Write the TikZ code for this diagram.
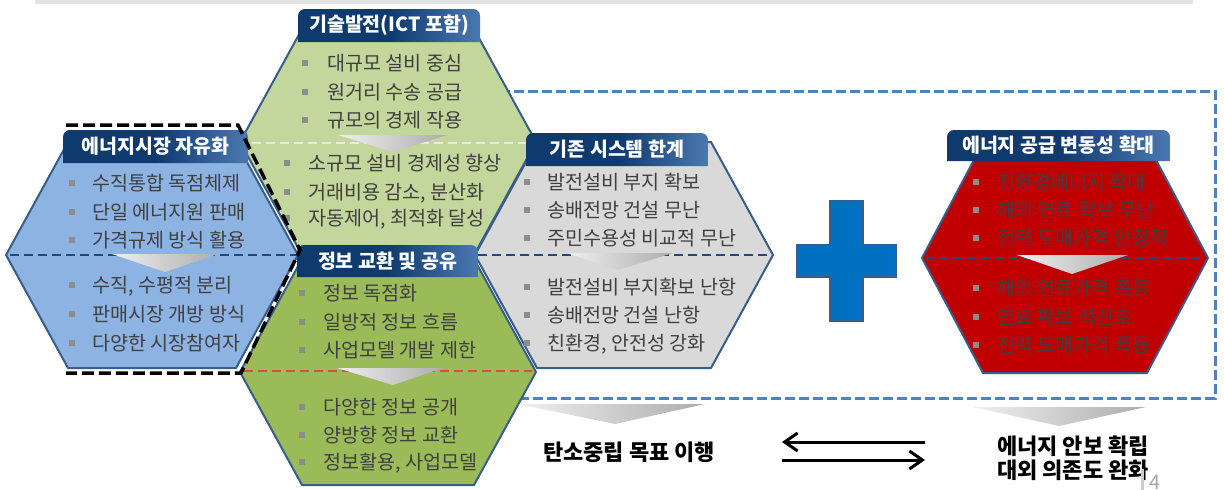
\documentclass[tikz,border=0pt]{standalone}
\usepackage{fontspec}
\setmainfont{Noto Sans CJK KR}
\usetikzlibrary{arrows.meta}
\definecolor{hexborder}{HTML}{385D8A}
\definecolor{lgreen}{HTML}{C3D69B}
\definecolor{dgreen}{HTML}{9BBB59}
\definecolor{lblue}{HTML}{8DB3E2}
\definecolor{lgray}{HTML}{D9D9D9}
\definecolor{dred}{HTML}{C00000}
\definecolor{navy}{HTML}{1F497D}
\definecolor{hdrA}{HTML}{0F3A6E}
\definecolor{hdrB}{HTML}{4A78B0}
\definecolor{txtgray}{HTML}{404040}
\definecolor{bulgray}{HTML}{8C8C8C}
\definecolor{dashblue}{HTML}{4F81BD}
\definecolor{reddash}{HTML}{D05050}
\definecolor{plusblue}{HTML}{0070C0}
\tikzset{
  hexshape/.style={draw=hexborder, line width=2pt, line join=miter},
  item/.style={anchor=base west, inner sep=0pt, font=\fontsize{19.6}{19.6}\selectfont, text=txtgray},
  bul/.style={fill=bulgray, minimum size=6pt, inner sep=0pt},
  hdrshade/.style={left color=hdrA, right color=hdrB, middle color=hdrA},
  hdrtext/.style={text=white, inner sep=0pt, font=\bfseries\fontsize{19.5}{19.5}\selectfont},
  middash/.style={line width=2pt, dash pattern=on 9pt off 5pt},
  tri/.style={left color=gray!12, right color=gray!65},
  dblarrow/.style={line width=3pt, -{Straight Barb[length=13pt,width=18pt]}},
  bottomtext/.style={font=\bfseries\fontsize{22}{23.5}\selectfont, text=black, align=center, inner sep=0pt}
}
\newcommand{\itm}[5]{\node[bul] at (#2,#4) {}; \node[item] (#1) at (#3,{#4+7}) {#5};}
\newcommand{\hdrbox}[6]{%
  \path[hdrshade] (#2,#5) [rounded corners=7pt] -- (#2,#3) -- (#4,#3) [sharp corners] -- (#4,#5) -- cycle;
  \node[hdrtext] (#1) at ({(#2+#4)/2},{(#3+#5)/2}) {#6};}
\begin{document}
\begin{tikzpicture}[x=1pt,y=-1pt]
\useasboundingbox (0,0) rectangle (1224,490);
% top band
\fill[gray!22] (35,0) rectangle (1193,4);
% blue dashed frame
\coordinate (fr1) at (500,91);
\coordinate (fr2) at (1215,91);
\coordinate (fr3) at (1215,398);
\coordinate (fr4) at (515,398);
\draw[dashblue, line width=3pt, dash pattern=on 10pt off 4pt] (fr1) -- (fr2) -- (fr3) -- (fr4);
% hexagons
\filldraw[hexshape, fill=lgreen] (240,142) -- (302,29) -- (474,29) -- (536,142) -- (474,255) -- (302,255) -- cycle;
\filldraw[hexshape, fill=lblue] (6,255) -- (68,142) -- (236,142) -- (298,255) -- (236,368) -- (68,368) -- cycle;
\filldraw[hexshape, fill=lgray] (475,255) -- (537,142) -- (711,142) -- (773,255) -- (711,368) -- (537,368) -- cycle;
\filldraw[hexshape, fill=dgreen] (240,372) -- (302,259) -- (474,259) -- (536,372) -- (474,485) -- (302,485) -- cycle;
\filldraw[hexshape, fill=dred] (922,258) -- (983,143) -- (1147,143) -- (1208,258) -- (1147,373) -- (983,373) -- cycle;
% middle dashed lines
\draw[middash, white!82!gray] (252,143) -- (526,143);
\draw[middash, navy] (10,255) -- (296,255);
\draw[middash, navy] (478,255) -- (771,255);
\draw[middash, reddash] (244,371) -- (532,371);
\draw[middash, navy] (925,258) -- (1205,258);
% gradient triangles
\shade[tri] (338,135) -- (447,135) -- (393,152) -- cycle;
\shade[tri] (112,254) -- (218,254) -- (165,272) -- cycle;
\shade[tri] (567,253) -- (673,253) -- (618,270) -- cycle;
\shade[tri] (337,368) -- (443,368) -- (393,385) -- cycle;
\shade[tri] (1017,255) -- (1128,255) -- (1072,274) -- cycle;
\shade[tri] (518,404) -- (705,404) -- (615,424) -- cycle;
\shade[tri] (973,407) -- (1146,407) -- (1059,426) -- cycle;
% items: top hex
\itm{ta1}{305}{327}{63}{대규모 설비 중심}
\itm{ta2}{305}{327}{92}{원거리 수송 공급}
\itm{ta3}{305}{327}{120}{규모의 경제 작용}
\itm{tb1}{287}{308}{163}{소규모 설비 경제성 향상}
\itm{tb2}{287}{308}{192}{거래비용 감소, 분산화}
\itm{tb3}{287}{308}{218}{자동제어, 최적화 달성}
% blue hex
\itm{ba1}{72}{92}{183}{수직통합 독점체제}
\itm{ba2}{72}{92}{212}{단일 에너지원 판매}
\itm{ba3}{72}{92}{240}{가격규제 방식 활용}
\itm{bb1}{72}{92}{285}{수직, 수평적 분리}
\itm{bb2}{72}{92}{314}{판매시장 개방 방식}
\itm{bb3}{72}{92}{343}{다양한 시장참여자}
% gray hex
\itm{ga1}{527}{547}{182}{발전설비 부지 확보}
\itm{ga2}{527}{547}{210}{송배전망 건설 무난}
\itm{ga3}{527}{547}{238}{주민수용성 비교적 무난}
\itm{gb1}{527}{547}{287}{발전설비 부지확보 난항}
\itm{gb2}{527}{547}{315}{송배전망 건설 난항}
\itm{gb3}{527}{547}{343}{친환경, 안전성 강화}
% dark green hex
\itm{da1}{302}{323}{293}{정보 독점화}
\itm{da2}{302}{323}{322}{일방적 정보 흐름}
\itm{da3}{302}{323}{350}{사업모델 개발 제한}
\itm{db1}{302}{323}{407}{다양한 정보 공개}
\itm{db2}{302}{323}{435}{양방향 정보 교환}
\itm{db3}{302}{323}{462}{정보활용, 사업모델}
% red hex
\itm{ra1}{976}{997}{182}{친환경에너지 확대}
\itm{ra2}{976}{997}{210}{해외 연료 확보 무난}
\itm{ra3}{976}{997}{238}{전력 도매가격 안정적}
\itm{rb1}{976}{997}{288}{해외 연료가격 폭등}
\itm{rb2}{976}{997}{317}{연료 확보 적신호}
\itm{rb3}{976}{997}{345}{전력 도매가격 폭등}
% headers
\hdrbox{h1}{298}{9}{480}{42}{기술발전(ICT 포함)}
\hdrbox{h2}{63}{130}{248}{163}{에너지시장 자유화}
\hdrbox{h3}{526}{133}{708}{166}{기존 시스템 한계}
\hdrbox{h4}{297}{245}{478}{277}{정보 교환 및 공유}
\hdrbox{h5}{947}{130}{1170}{161}{에너지 공급 변동성 확대}
% black dashed outline
\draw[black, line width=3.5pt, dash pattern=on 12pt off 5pt] (66,125) -- (238,125) -- (300,250) -- (241,373) -- (66,373);
% plus sign
\filldraw[fill=plusblue, draw=hexborder, line width=2pt] (830,201) -- (863,201) -- (863,245) -- (896,245) -- (896,277) -- (863,277) -- (863,321) -- (830,321) -- (830,277) -- (797,277) -- (797,245) -- (830,245) -- cycle;
% bottom texts and arrows
\node[bottomtext] (goal1) at (629,452) {탄소중립 목표 이행};
\node[bottomtext] (goal2) at (1073,458) {에너지 안보 확립\\대외 의존도 완화};
\coordinate (al1) at (925,442);
\coordinate (al2) at (782,442);
\coordinate (ar1) at (782,460);
\coordinate (ar2) at (925,460);
\draw[dblarrow] (al1) -- (al2);
\draw[dblarrow] (ar1) -- (ar2);
% page number
\fill[gray!40] (1140.5,469) rectangle (1143.5,490);
\node[anchor=base west, inner sep=0pt, text=gray!70, font=\fontsize{20}{20}\selectfont] (pg) at (1149,489) {4};
\end{tikzpicture}
\end{document}
